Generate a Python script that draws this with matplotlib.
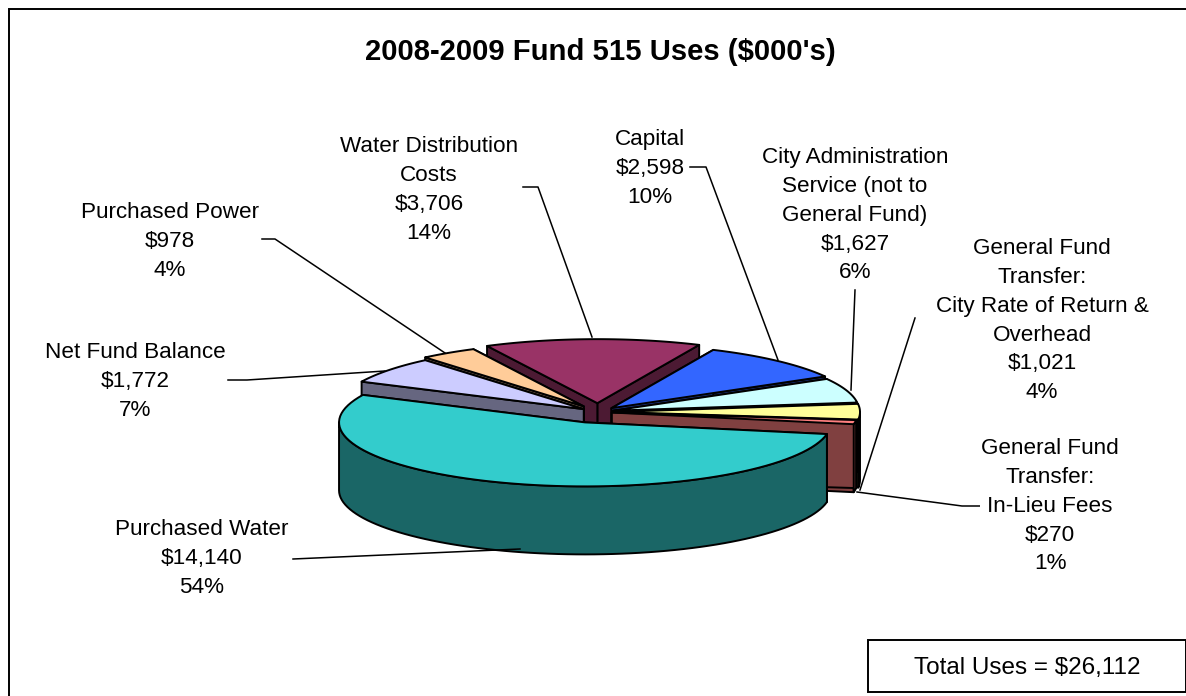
import numpy as np
import matplotlib
matplotlib.use('Agg')
import matplotlib.pyplot as plt
from matplotlib.patches import Polygon, Rectangle

plt.rcParams['font.family'] = ['Liberation Sans', 'DejaVu Sans']

# slices in drawing-round order, clockwise
labels = ['Purchased Water', 'Net Fund Balance', 'Purchased Power',
          'Water Distribution\nCosts', 'Capital',
          'City Administration\nService (not to\nGeneral Fund)',
          'General Fund\nTransfer:\nCity Rate of Return &\nOverhead',
          'General Fund\nTransfer:\nIn-Lieu Fees']
values = [14140, 1772, 978, 3706, 2598, 1627, 1021, 270]
percents = [54, 7, 4, 14, 10, 6, 4, 1]
top_colors = ['#33CCCC', '#CCCCFF', '#FFCC99', '#993366', '#3366FF', '#CCFFFF', '#FFFF99', '#FF8080']
side_colors = ['#1A6666', '#666680', '#806650', '#4C1A33', '#1A3380', '#668080', '#808050', '#804040']
explode = [42, 18, 26, 34, 20, 16, 16, 14]

title = "2008-2009 Fund 515 Uses ($000's)"
total_label = 'Total Uses = $26,112'

# label anchor (centre x, top y) and leader lines, in pixels
label_pos = [(202, 519), (135, 342), (170, 202), (429, 136), (650, 129), (855, 147), (1042, 238), (1050, 438)]
leaders = [
    [(293, 559), (520, 549)],
    [(228, 380), (247, 380), (385, 371)],
    [(262, 239), (275, 239), (445, 353)],
    [(523, 187), (538, 187), (592, 337)],
    [(690, 167), (706, 167), (778, 360)],
    [(855, 290), (851, 390)],
    [(915, 318), (860, 490)],
    [(980, 506), (962, 506), (857, 492)],
]

CX, CY = 598, 412
RX, RY = 246, 64
DEPTH = 68
START = -10.5
LW = 1.4

fig = plt.figure(figsize=(11.86, 6.96), dpi=100)
ax = fig.add_axes([0, 0, 1, 1])
ax.set_xlim(0, 1186)
ax.set_ylim(696, 0)
ax.axis('off')

# outer chart frame
ax.add_patch(Rectangle((9, 9), 1300, 800, fc='white', ec='black', lw=LW))


def ellipse_pts(ox, oy, a0, a1, n=80):
    t = np.radians(np.linspace(a0, a1, n))
    return ox + RX * np.cos(t), oy - RY * np.sin(t)


def draw_slice(i, a0, a1):
    # cut faces first, then the front rim, then the top of the slice
    z = 10 + order.index(i)
    mid = np.radians((a0 + a1) / 2)
    ox = CX + explode[i] * np.cos(mid)
    oy = CY - explode[i] * RY / RX * np.sin(mid)
    xs, ys = ellipse_pts(ox, oy, a0, a1)
    for x, y in [(xs[0], ys[0]), (xs[-1], ys[-1])]:
        ax.add_patch(Polygon([(ox, oy), (x, y), (x, y + DEPTH), (ox, oy + DEPTH)],
                             fc=side_colors[i], ec='black', lw=LW, zorder=z, joinstyle='round'))
    # only the part of the rim facing the viewer shows
    for shift in (0, -360):
        lo, hi = max(a0, -180 + shift), min(a1, shift)
        if hi > lo:
            rx, ry = ellipse_pts(ox, oy, lo, hi)
            rim = np.column_stack([np.r_[rx, rx[::-1]], np.r_[ry, ry[::-1] + DEPTH]])
            ax.add_patch(Polygon(rim, fc=side_colors[i], ec='black', lw=LW, zorder=z, joinstyle='round'))
    top = np.column_stack([np.r_[ox, xs], np.r_[oy, ys]])
    ax.add_patch(Polygon(top, fc=top_colors[i], ec='black', lw=LW, zorder=z + 0.5, joinstyle='round'))


sweeps = np.array(values) / sum(values) * 360
ends = START - np.cumsum(sweeps)
starts = np.r_[START, ends[:-1]]

# far slices first, the big front slice last
order = [3, 4, 2, 1, 5, 6, 7, 0]
for i in order:
    draw_slice(i, ends[i], starts[i])

for pts in leaders:
    xs, ys = zip(*pts)
    ax.plot(xs, ys, color='black', lw=1.1, zorder=30)

for name, val, pct, (x, y) in zip(labels, values, percents, label_pos):
    ax.text(x, y, f'{name}\n${val:,}\n{pct}%', ha='center', va='top', fontsize=16.2,
            linespacing=1.49, zorder=31, bbox=dict(fc='white', ec='none', pad=1))

ax.text(600, 52, title, ha='center', va='center', fontsize=21.1, fontweight='bold')

ax.add_patch(Rectangle((868, 640), 318, 52, fc='white', ec='black', lw=LW, zorder=31))
ax.text(1027, 668, total_label, ha='center', va='center', fontsize=17.5, zorder=32)

fig.savefig('out.png', dpi=100)
